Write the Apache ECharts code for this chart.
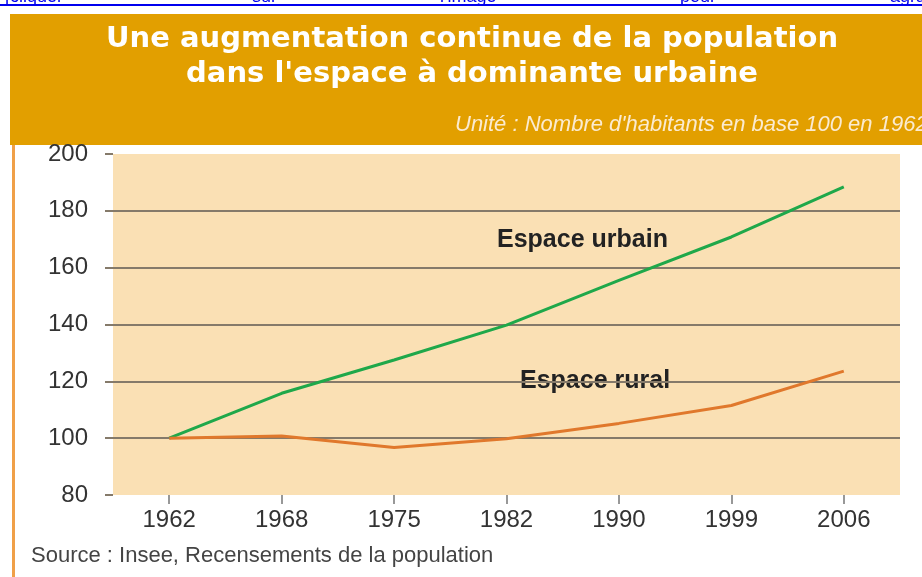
<!DOCTYPE html>
<html><head><meta charset="utf-8">
<script src="https://cdn.jsdelivr.net/npm/echarts@6/dist/echarts.min.js"></script>
<style>html,body{margin:0;padding:0;background:#fff;}#c{width:922px;height:577px;}</style>
</head><body><div id="c"></div>
<script>
var years = ['1962','1968','1975','1982','1990','1999','2006'];
var urbain = [100, 115.8, 127.5, 139.8, 155.5, 170.8, 188.4];
var rural = [100, 100.8, 96.7, 99.8, 105.2, 111.5, 123.6];
var yTicks = {min: 80, max: 200, step: 20};
var titleLines = ["Une augmentation continue de la population", "dans l'espace à dominante urbaine"];
var unitText = "Unité : Nombre d'habitants en base 100 en 1962";
var sourceText = "Source : Insee, Recensements de la population";
var linkWords = ["[cliquer", "sur", "l'image", "pour", "agrandir]"];

var font = '"Liberation Sans", Arial, Helvetica, sans-serif';
var tfont = '"DejaVu Sans", Verdana, sans-serif';
var chart = echarts.init(document.getElementById('c'));
var linkX = [5, 252, 440, 680, 890];
var graphics = [
  {type:'rect', shape:{x:0,y:4,width:922,height:2}, style:{fill:'#0000EE'}},
  {type:'rect', shape:{x:10,y:14,width:912,height:131}, style:{fill:'#E29F00'}},
  {type:'rect', shape:{x:12,y:145,width:3,height:432}, style:{fill:'#F0A048'}},
  {type:'text', x:472, y:39, style:{text:titleLines[0], fill:'#fff', font:'bold 29px '+tfont, textAlign:'center', textVerticalAlign:'middle'}},
  {type:'text', x:472, y:74, style:{text:titleLines[1], fill:'#fff', font:'bold 29px '+tfont, textAlign:'center', textVerticalAlign:'middle'}},
  {type:'text', x:455, y:125, style:{text:unitText, fill:'#FBEBD0', font:'italic 22px '+font, textVerticalAlign:'middle'}},
  {type:'text', x:497, y:240, style:{text:'Espace urbain', fill:'#222', font:'bold 25px '+font, textVerticalAlign:'middle'}},
  {type:'text', x:520, y:381, style:{text:'Espace rural', fill:'#222', font:'bold 25px '+font, textVerticalAlign:'middle'}},
  {type:'text', x:31, y:556, style:{text:sourceText, fill:'#444', font:'22px '+font, textVerticalAlign:'middle'}}
];
linkWords.forEach(function(w,i){
  graphics.push({type:'text', x:linkX[i], y:6, style:{text:w, fill:'#0000EE', font:'18px '+font, textVerticalAlign:'bottom'}});
});

chart.setOption({
  animation:false,
  backgroundColor:'#fff',
  grid:{left:113, right:22, top:154, bottom:82, show:true, backgroundColor:'#FAE0B4', borderWidth:0},
  xAxis:{type:'category', data:years, boundaryGap:true,
    axisLine:{show:false},
    axisTick:{show:true, alignWithLabel:true, length:9, lineStyle:{color:'#777', width:1.5}},
    axisLabel:{fontSize:24, color:'#333', fontFamily:font, margin:13}},
  yAxis:{type:'value', min:yTicks.min, max:yTicks.max, interval:yTicks.step,
    axisLine:{show:false},
    axisTick:{show:true, length:8, lineStyle:{color:'#857a6a', width:2}},
    axisLabel:{fontSize:24, color:'#333', fontFamily:font, margin:25}},
  series:[
    {type:'line', data:urbain, symbol:'none', lineStyle:{color:'#1FA84A', width:3}, z:3},
    {type:'line', data:rural, symbol:'none', lineStyle:{color:'#E0782C', width:3}, z:3}
  ],
  graphic:graphics
});
chart.setOption({yAxis:{splitLine:{show:true, showMinLine:false, showMaxLine:false, lineStyle:{color:'#857a6a', width:2}}}});
</script></body></html>
